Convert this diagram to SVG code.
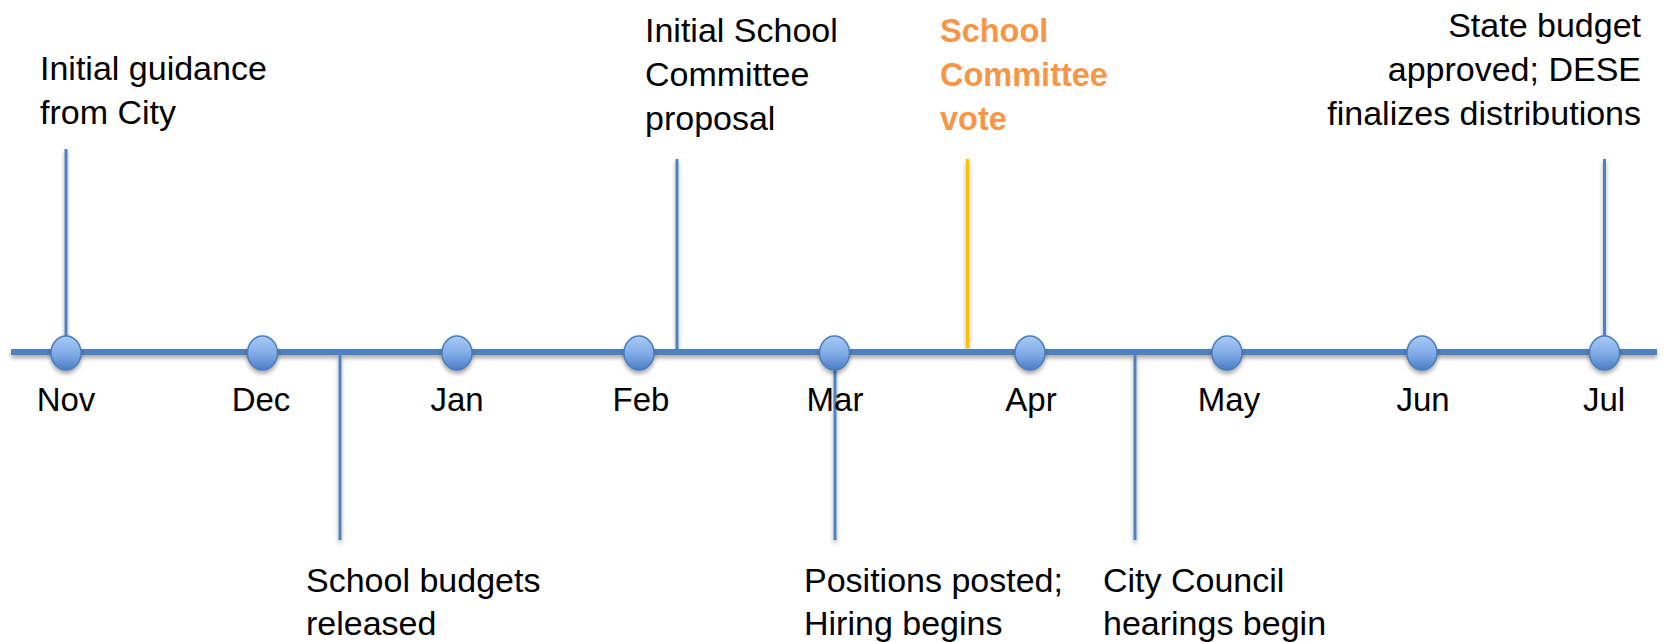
<svg xmlns="http://www.w3.org/2000/svg" width="1669" height="642" viewBox="0 0 1669 642">
  <defs>
    <linearGradient id="dotGrad" x1="0" y1="0" x2="0" y2="1">
      <stop offset="0" stop-color="#A9CAF7"/>
      <stop offset="0.55" stop-color="#7FA9E6"/>
      <stop offset="1" stop-color="#4A7CC6"/>
    </linearGradient>
    <filter id="shadow" x="-20%" y="-50%" width="140%" height="200%">
      <feGaussianBlur in="SourceAlpha" stdDeviation="2"/>
      <feOffset dx="0" dy="3" result="b"/>
      <feComponentTransfer><feFuncA type="linear" slope="0.35"/></feComponentTransfer>
      <feMerge><feMergeNode/><feMergeNode in="SourceGraphic"/></feMerge>
    </filter>
    <style>
      .lbl { font-family: "Liberation Sans", Arial, sans-serif; font-size: 34px; fill: #000000; }
      .mon { font-family: "Liberation Sans", Arial, sans-serif; font-size: 33px; fill: #000000; text-anchor: middle; }
      .hot { font-family: "Liberation Sans", Arial, sans-serif; font-size: 32.5px; font-weight: bold; fill: #F79646; }
      .axis { stroke: #4F81BD; stroke-width: 6; fill: none; }
      .tick { stroke: #4F81BD; stroke-width: 3; fill: none; }
      .tickHot { stroke: #FFC000; stroke-width: 3; fill: none; }
      .dot { fill: url(#dotGrad); stroke: #4A7EBB; stroke-width: 1.5; }
    </style>
  </defs>

  <g id="connectors" filter="url(#shadow)">
    <line class="tick" x1="66" y1="149" x2="66" y2="352"/>
    <line class="tick" x1="340" y1="352" x2="340" y2="540"/>
    <line class="tick" x1="677" y1="159" x2="677" y2="352"/>
    <line class="tickHot" x1="967.5" y1="159" x2="967.5" y2="348"/>
    <line class="tick" x1="835" y1="352" x2="835" y2="540"/>
    <line class="tick" x1="1135" y1="352" x2="1135" y2="540"/>
    <line class="tick" x1="1604.5" y1="159" x2="1604.5" y2="352"/>
    <line class="axis" x1="11" y1="352" x2="1657" y2="352"/>
  </g>

  <g id="months" filter="url(#shadow)">
    <g id="m-nov"><ellipse class="dot" cx="66" cy="353" rx="15" ry="17"/></g>
    <g id="m-dec"><ellipse class="dot" cx="262.5" cy="353" rx="15" ry="17"/></g>
    <g id="m-jan"><ellipse class="dot" cx="457" cy="353" rx="15" ry="17"/></g>
    <g id="m-feb"><ellipse class="dot" cx="639" cy="353" rx="15" ry="17"/></g>
    <g id="m-mar"><ellipse class="dot" cx="834.5" cy="353" rx="15" ry="17"/></g>
    <g id="m-apr"><ellipse class="dot" cx="1030" cy="353" rx="15" ry="17"/></g>
    <g id="m-may"><ellipse class="dot" cx="1227" cy="353" rx="15" ry="17"/></g>
    <g id="m-jun"><ellipse class="dot" cx="1422" cy="353" rx="15" ry="17"/></g>
    <g id="m-jul"><ellipse class="dot" cx="1604.5" cy="353" rx="15" ry="17"/></g>
  </g>

  <g id="month-labels">
    <text class="mon" x="66" y="411">Nov</text>
    <text class="mon" x="261" y="411">Dec</text>
    <text class="mon" x="457" y="411">Jan</text>
    <text class="mon" x="641" y="411">Feb</text>
    <text class="mon" x="835" y="411">Mar</text>
    <text class="mon" x="1031" y="411">Apr</text>
    <text class="mon" x="1229" y="411">May</text>
    <text class="mon" x="1423" y="411">Jun</text>
    <text class="mon" x="1604" y="411">Jul</text>
  </g>

  <g id="ev-guidance">
    <text class="lbl" x="40" y="80">Initial guidance</text>
    <text class="lbl" x="40" y="124">from City</text>
  </g>
  <g id="ev-budgets">
    <text class="lbl" x="306" y="592">School budgets</text>
    <text class="lbl" x="306" y="635">released</text>
  </g>
  <g id="ev-proposal">
    <text class="lbl" x="645" y="42">Initial School</text>
    <text class="lbl" x="645" y="86">Committee</text>
    <text class="lbl" x="645" y="130">proposal</text>
  </g>
  <g id="ev-positions">
    <text class="lbl" x="804" y="592">Positions posted;</text>
    <text class="lbl" x="804" y="635">Hiring begins</text>
  </g>
  <g id="ev-vote">
    <text class="hot" x="940" y="42">School</text>
    <text class="hot" x="940" y="86">Committee</text>
    <text class="hot" x="940" y="130">vote</text>
  </g>
  <g id="ev-council">
    <text class="lbl" x="1103" y="592">City Council</text>
    <text class="lbl" x="1103" y="635">hearings begin</text>
  </g>
  <g id="ev-state">
    <text class="lbl" x="1641" y="37" text-anchor="end">State budget</text>
    <text class="lbl" x="1641" y="81" text-anchor="end">approved; DESE</text>
    <text class="lbl" x="1641" y="125" text-anchor="end">finalizes distributions</text>
  </g>
</svg>
